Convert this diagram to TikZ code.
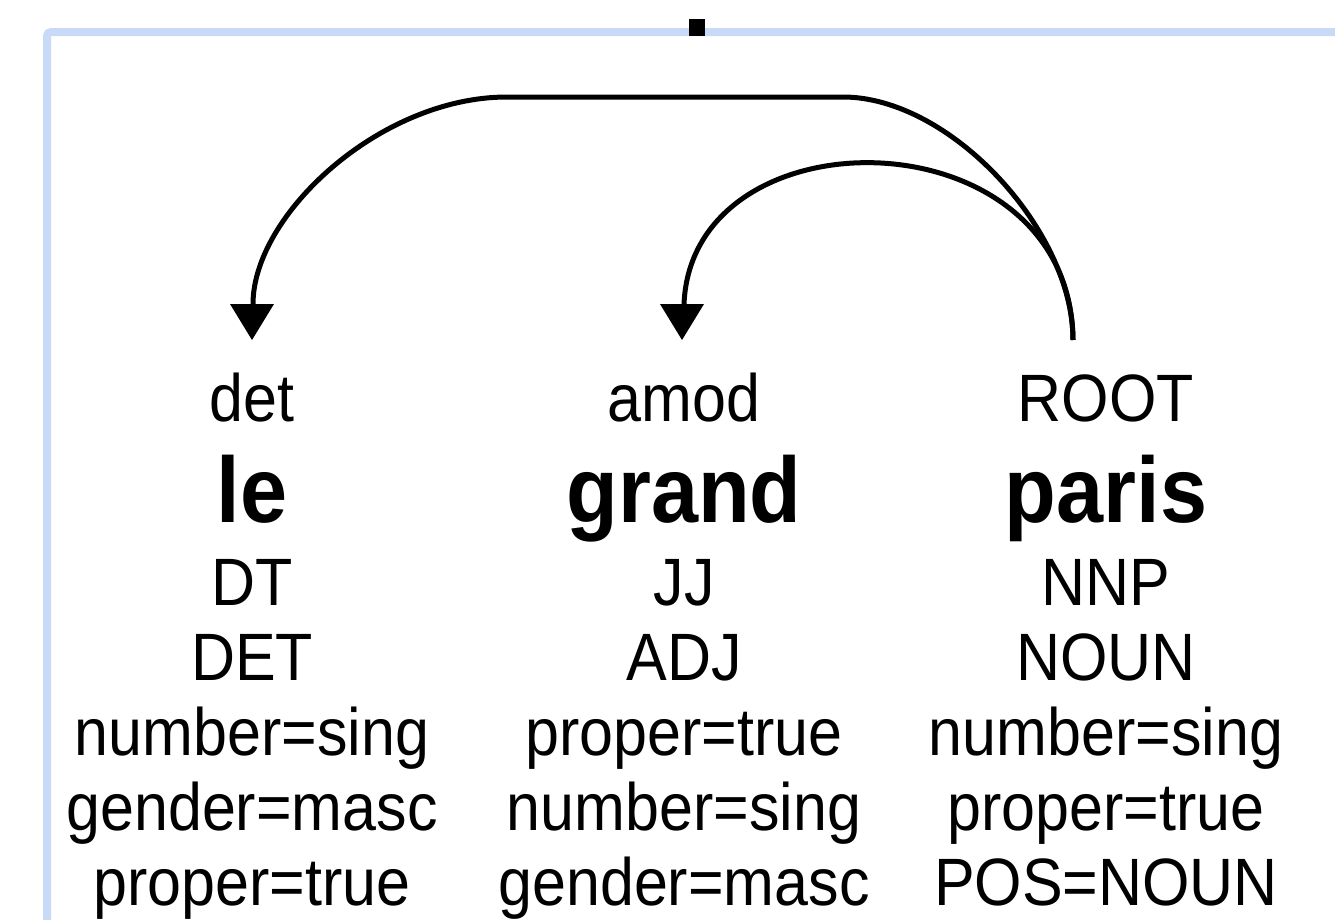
\documentclass[tikz,border=0pt]{standalone}
\usepackage{fontspec}
\setmainfont{Liberation Sans}[FakeStretch=0.91]
\definecolor{frameblue}{HTML}{C9DAF8}
\tikzset{
  lab/.style={anchor=base, inner sep=0pt, font=\fontsize{67}{75}\selectfont},
  word/.style={anchor=base, inner sep=0pt, font=\fontsize{93}{100}\selectfont\bfseries},
  arc/.style={line width=5pt, black},
  head/.style={fill=black},
  panel/.style={draw=frameblue, line width=8pt, rounded corners=4pt},
}
\begin{document}
\begin{tikzpicture}[x=1pt, y=-1pt]
  \useasboundingbox (0,0) rectangle (1335,919);
  \clip (0,0) rectangle (1335,919);

  % panel frame and the small marker on its top edge
  \draw[panel] (47,32) rectangle (1420,1000);
  \fill (689,19) rectangle (705,36);

  % token columns
  \node[lab]  (dep1) at (252,421) {det};
  \node[word] (tok1) at (252,522) {le};
  \node[lab]  (tag1) at (252,605) {DT};
  \node[lab]  (pos1) at (252,680) {DET};
  \node[lab]  (fa1)  at (252,755) {number=sing};
  \node[lab]  (fb1)  at (252,830) {gender=masc};
  \node[lab]  (fc1)  at (252,905) {proper=true};

  \node[lab]  (dep2) at (684,421) {amod};
  \node[word] (tok2) at (684,522) {grand};
  \node[lab]  (tag2) at (684,605) {JJ};
  \node[lab]  (pos2) at (684,680) {ADJ};
  \node[lab]  (fa2)  at (684,755) {proper=true};
  \node[lab]  (fb2)  at (684,830) {number=sing};
  \node[lab]  (fc2)  at (684,905) {gender=masc};

  \node[lab]  (dep3) at (1106,421) {ROOT};
  \node[word] (tok3) at (1106,522) {paris};
  \node[lab]  (tag3) at (1106,605) {NNP};
  \node[lab]  (pos3) at (1106,680) {NOUN};
  \node[lab]  (fa3)  at (1106,755) {number=sing};
  \node[lab]  (fb3)  at (1106,830) {proper=true};
  \node[lab]  (fc3)  at (1106,905) {POS=NOUN};

  % arc end points above the labels
  \coordinate (src)   at (1073,340);
  \coordinate (tip1)  at (252,340);
  \coordinate (base1) at (253,304);
  \coordinate (tip2)  at (682,340);
  \coordinate (base2) at (684,304);

  % dependency arcs
  \draw[arc] (src) .. controls (1073,230) and (950,97) .. (843,97)
             -- (507,97) .. controls (380,97) and (253,215) .. (base1);
  \draw[arc] (src) .. controls (1071,112) and (692,108) .. (base2);

  % arrow heads
  \fill[head] (tip1) -- ++(-22,-36) -- ++(44,0) -- cycle;
  \fill[head] (tip2) -- ++(-22,-36) -- ++(44,0) -- cycle;
\end{tikzpicture}
\end{document}
